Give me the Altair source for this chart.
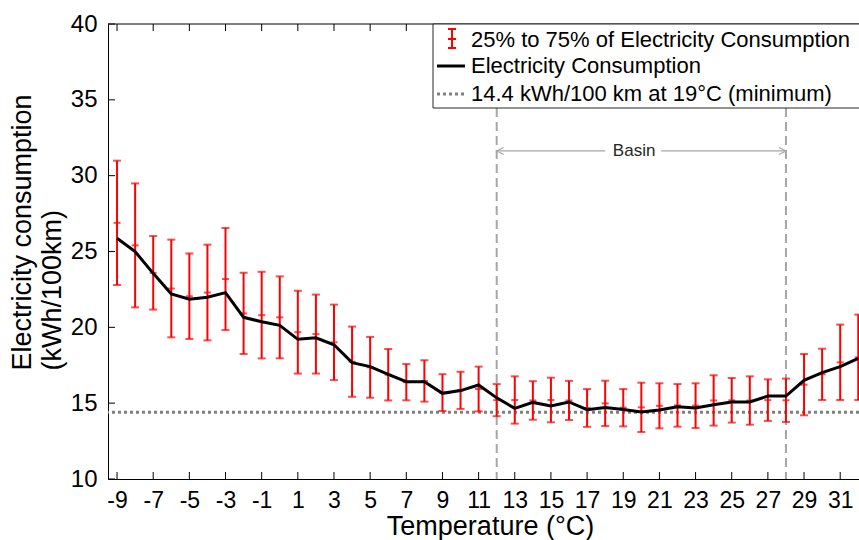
import altair as alt
import pandas as pd

# Temperature bins (°C) and consumption statistics (kWh/100km)
TEMPS = [-9, -8, -7, -6, -5, -4, -3, -2, -1, 0, 1, 2, 3, 4, 5, 6, 7, 8, 9, 10, 11,
         12, 13, 14, 15, 16, 17, 18, 19, 20, 21, 22, 23, 24, 25, 26, 27, 28, 29, 30, 31, 32]
CONSUMPTION = [25.87, 24.99, 23.56, 22.20, 21.85, 21.98, 22.29, 20.66, 20.37, 20.13, 19.21,
               19.31, 18.85, 17.67, 17.41, 16.90, 16.42, 16.42, 15.65, 15.83, 16.20, 15.35,
               14.66, 15.05, 14.81, 15.08, 14.57, 14.72, 14.58, 14.42, 14.55, 14.77, 14.68,
               14.90, 15.08, 15.08, 15.47, 15.47, 16.51, 17.01, 17.41, 17.96]
Q25 = [22.79, 21.32, 21.17, 19.34, 19.23, 19.14, 19.82, 18.24, 17.95, 17.96, 16.95,
       16.95, 16.52, 15.42, 15.36, 15.18, 15.19, 15.10, 14.48, 14.62, 14.46, 14.14,
       13.65, 13.91, 13.74, 13.89, 13.44, 13.49, 13.47, 13.10, 13.34, 13.45, 13.36,
       13.52, 13.72, 13.58, 13.83, 13.76, 14.20, 15.21, 15.21, 15.21]
Q75 = [30.99, 29.49, 26.02, 25.78, 24.87, 25.45, 26.55, 23.60, 23.66, 23.36, 22.41,
       22.16, 21.50, 20.05, 19.37, 18.57, 17.58, 17.83, 16.91, 17.07, 17.41, 16.26,
       16.77, 16.45, 16.68, 16.47, 15.93, 16.48, 15.93, 16.35, 16.31, 16.26, 16.31,
       16.84, 16.66, 16.77, 16.57, 16.62, 18.24, 18.59, 20.18, 20.84]

MIN_VALUE = 14.4
BASIN = [12, 28]
BASIN_LEVEL = 31.63
BASIN_GAP = [18.0, 21.1]
BASIN_LABEL_X = 19.6

X_TICKS = [-9, -7, -5, -3, -1, 1, 3, 5, 7, 9, 11, 13, 15, 17, 19, 21, 23, 25, 27, 29, 31]
Y_TICKS = [10, 15, 20, 25, 30, 35, 40]
X_DOMAIN = [-9.5, 32.04]
Y_DOMAIN = [10, 40]

LEGEND_LABELS = ["25% to 75% of Electricity Consumption",
                 "Electricity Consumption",
                 "14.4 kWh/100 km at 19°C (minimum)"]

FONT = "Liberation Sans"
RED = "#ff0000"
DOT_GRAY = "#808080"
DASH_GRAY = "#a6a6a6"
W, H = 751, 455
TICK_LEN = 7

df = pd.DataFrame({"temp": TEMPS, "mean": CONSUMPTION, "q25": Q25, "q75": Q75})
df["mid"] = (df["q25"] + df["q75"]) / 2

xscale = alt.Scale(domain=X_DOMAIN, nice=False, zero=False)
yscale = alt.Scale(domain=Y_DOMAIN, nice=False, zero=False)

# Plain hyphen for negative tick labels
PLAIN_LABEL = "'' + datum.value"

# Shared axis definitions, used by every layer so the merged axes stay intact
XAXIS = alt.Axis(values=X_TICKS, ticks=False, grid=False, labelFlush=False,
                 labelOverlap=False, labelFontSize=23, labelPadding=10,
                 labelExpr=PLAIN_LABEL,
                 labelColor="black", domainColor="black", domainWidth=1,
                 title="Temperature (°C)", titleFontSize=27,
                 titleFontWeight="normal", titleColor="black",
                 titleX=382, titleY=47, titleBaseline="middle")
YAXIS = alt.Axis(values=Y_TICKS, ticks=False, grid=False, labelFlush=False,
                 labelOverlap=False, labelFontSize=24, labelPadding=11,
                 labelExpr=PLAIN_LABEL,
                 labelColor="black", domainColor="black", domainWidth=1,
                 title=["Electricity consumption", "(kWh/100km)"],
                 titleFontSize=27, titleFontWeight="normal", titleColor="black",
                 titleAngle=270, titleX=-86, titleY=346,
                 titleBaseline="middle", titleAlign="left", titleLineHeight=30)


def X(field):
    return alt.X(f"{field}:Q", scale=xscale, axis=XAXIS)


def Y(field):
    return alt.Y(f"{field}:Q", scale=yscale, axis=YAXIS)


# Main consumption curve
line = alt.Chart(df).mark_line(color="black", strokeWidth=3).encode(
    x=X("temp"), y=Y("mean"))

# Interquartile error bars with caps and centre marks
bars = alt.Chart(df).mark_rule(color=RED, strokeWidth=2).encode(
    x=X("temp"), y=Y("q25"), y2="q75")
cap_lo = alt.Chart(df).mark_tick(color=RED, orient="horizontal", thickness=2, size=8).encode(
    x=X("temp"), y=Y("q25"))
cap_hi = alt.Chart(df).mark_tick(color=RED, orient="horizontal", thickness=2, size=8).encode(
    x=X("temp"), y=Y("q75"))
mid = alt.Chart(df).mark_tick(color=RED, orient="horizontal", thickness=2, size=7).encode(
    x=X("temp"), y=Y("mid"))

# Minimum consumption level
min_line = alt.Chart(pd.DataFrame({"v": [MIN_VALUE]})).mark_rule(
    color=DOT_GRAY, strokeWidth=3, strokeDash=[3, 3]).encode(y=Y("v"))

# Basin boundaries and annotation
basin_lines = alt.Chart(pd.DataFrame({"b": BASIN})).mark_rule(
    color=DASH_GRAY, strokeWidth=2, strokeDash=[9, 5]).encode(x=X("b"))
seg_df = pd.DataFrame({"a": [BASIN[0], BASIN_GAP[1]], "b": [BASIN_GAP[0], BASIN[1]],
                       "lvl": [BASIN_LEVEL, BASIN_LEVEL]})
basin_arrow = alt.Chart(seg_df).mark_rule(color=DASH_GRAY, strokeWidth=1.2).encode(
    x=X("a"), x2="b", y=Y("lvl"))
head_left = alt.Chart(pd.DataFrame({"b": [BASIN[0]], "lvl": [BASIN_LEVEL]})).mark_point(
    shape="M2,-1L0,0L2,1", filled=False, color=DASH_GRAY, size=49, strokeWidth=1.2,
    opacity=1).encode(x=X("b"), y=Y("lvl"))
head_right = alt.Chart(pd.DataFrame({"b": [BASIN[1]], "lvl": [BASIN_LEVEL]})).mark_point(
    shape="M-2,-1L0,0L-2,1", filled=False, color=DASH_GRAY, size=49, strokeWidth=1.2,
    opacity=1).encode(x=X("b"), y=Y("lvl"))
basin_text = alt.Chart(pd.DataFrame({"b": [BASIN_LABEL_X], "lvl": [BASIN_LEVEL],
                                     "t": ["Basin"]})).mark_text(
    font=FONT, fontSize=17, color="#262626", align="center", baseline="middle").encode(
    x=X("b"), y=Y("lvl"), text="t:N")

# Inward ticks and top frame line
tick_df_x = pd.DataFrame({"t": X_TICKS})
tick_df_y = pd.DataFrame({"t": Y_TICKS})
ticks_bottom = alt.Chart(tick_df_x).mark_rule(color="black", strokeWidth=1).encode(
    x=X("t"), y=alt.value(H), y2=alt.value(H - TICK_LEN))
ticks_top = alt.Chart(tick_df_x).mark_rule(color="black", strokeWidth=1).encode(
    x=X("t"), y=alt.value(0), y2=alt.value(TICK_LEN))
ticks_left = alt.Chart(tick_df_y).mark_rule(color="black", strokeWidth=1).encode(
    y=Y("t"), x=alt.value(0), x2=alt.value(TICK_LEN))
top_frame = alt.Chart(pd.DataFrame({"k": [0]})).mark_rule(color="black", strokeWidth=1).encode(
    x=alt.value(0), x2=alt.value(W + 20), y=alt.value(0))

# Legend box
one = pd.DataFrame({"k": [0]})
leg_box = alt.Chart(one).mark_rect(fill="white", stroke="#262626", strokeWidth=1).encode(
    x=alt.value(325), x2=alt.value(W + 20), y=alt.value(0), y2=alt.value(84))
leg_bar = alt.Chart(one).mark_rule(color=RED, strokeWidth=2).encode(
    x=alt.value(344), y=alt.value(5), y2=alt.value(24))
leg_caps = [alt.Chart(one).mark_rule(color=RED, strokeWidth=2).encode(
    x=alt.value(340), x2=alt.value(348), y=alt.value(v)) for v in (5, 15, 24)]
leg_line = alt.Chart(one).mark_rule(color="black", strokeWidth=3).encode(
    x=alt.value(329), x2=alt.value(357), y=alt.value(42))
leg_dot = alt.Chart(one).mark_rule(color=DOT_GRAY, strokeWidth=3, strokeDash=[3, 3]).encode(
    x=alt.value(329), x2=alt.value(357), y=alt.value(70))
leg_texts = [alt.Chart(pd.DataFrame({"t": [lab]})).mark_text(
    font=FONT, fontSize=22, color="black", align="left", baseline="middle").encode(
    x=alt.value(363), y=alt.value(yy), text="t:N")
    for lab, yy in zip(LEGEND_LABELS, (16, 42, 70))]

chart = alt.layer(
    basin_lines, min_line, bars, cap_lo, cap_hi, mid, line,
    basin_arrow, head_left, head_right, basin_text,
    ticks_bottom, ticks_top, ticks_left, top_frame,
    leg_box, leg_bar, *leg_caps, leg_line, leg_dot, *leg_texts,
).properties(
    width=W, height=H,
    autosize=alt.AutoSizeParams(type="none"),
    padding={"left": 108, "top": 24, "right": 0, "bottom": 61},
).configure(font=FONT).configure_view(stroke=None).configure_axis(
    labelFont=FONT, titleFont=FONT)

chart.save("out.html", embed_options={"renderer": "svg", "actions": False})
